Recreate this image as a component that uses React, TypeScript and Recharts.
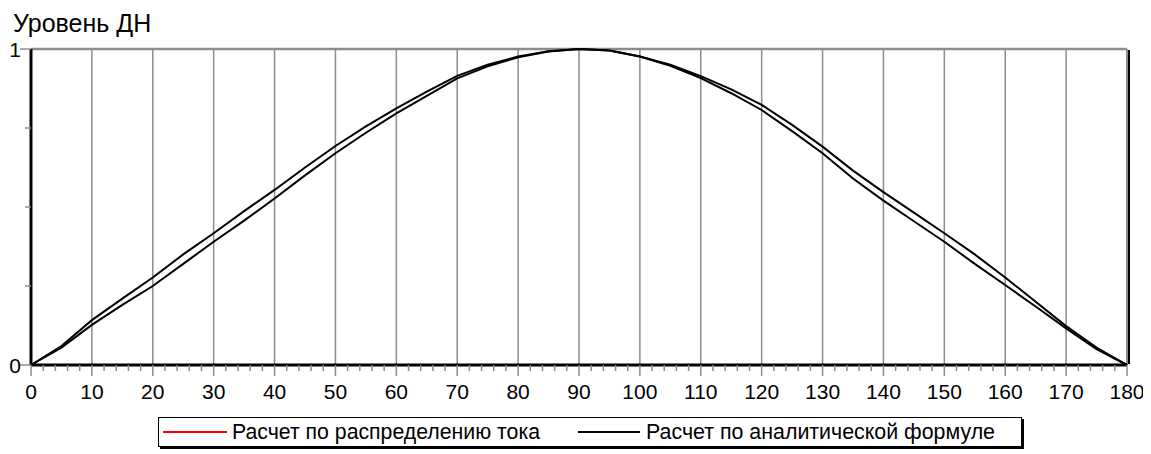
import React from 'react';
import { LineChart, XAxis, YAxis, Line, Legend, ReferenceLine } from 'recharts';

const angles = [0, 5, 10, 15, 20, 25, 30, 35, 40, 45, 50, 55, 60, 65, 70, 75, 80, 85, 90, 95, 100, 105, 110, 115, 120, 125, 130, 135, 140, 145, 150, 155, 160, 165, 170, 175, 180];
const currentDist = [0, 0.06, 0.142, 0.21, 0.277, 0.35, 0.417, 0.487, 0.554, 0.625, 0.693, 0.755, 0.812, 0.865, 0.915, 0.95, 0.976, 0.993, 1, 0.995, 0.976, 0.95, 0.914, 0.872, 0.823, 0.76, 0.691, 0.615, 0.547, 0.482, 0.417, 0.35, 0.277, 0.2, 0.123, 0.055, 0];
const analytic = [0, 0.055, 0.127, 0.19, 0.25, 0.32, 0.39, 0.457, 0.527, 0.6, 0.67, 0.735, 0.796, 0.852, 0.907, 0.945, 0.974, 0.992, 1, 0.995, 0.976, 0.947, 0.908, 0.86, 0.807, 0.74, 0.67, 0.59, 0.52, 0.455, 0.39, 0.32, 0.253, 0.185, 0.116, 0.05, 0];

const xTicks = [0, 2, 4, 6, 8, 10, 12, 14, 16, 18, 20, 22, 24, 26, 28, 30, 32, 34, 36, 38, 40, 42, 44, 46, 48, 50, 52, 54, 56, 58, 60, 62, 64, 66, 68, 70, 72, 74, 76, 78, 80, 82, 84, 86, 88, 90, 92, 94, 96, 98, 100, 102, 104, 106, 108, 110, 112, 114, 116, 118, 120, 122, 124, 126, 128, 130, 132, 134, 136, 138, 140, 142, 144, 146, 148, 150, 152, 154, 156, 158, 160, 162, 164, 166, 168, 170, 172, 174, 176, 178, 180];
const gridX = [10, 20, 30, 40, 50, 60, 70, 80, 90, 100, 110, 120, 130, 140, 150, 160, 170];
const yTicks = [0, 0.25, 0.5, 0.75, 1];
const yLabels = [0, 1];

const seriesNames = ['Расчет по распределению тока', 'Расчет по аналитической формуле'];
const legendColors = ['#ff0000', '#000000'];

const data = angles.map((a, i) => ({ angle: a, dist: currentDist[i], formula: analytic[i] }));

const FONT = '"Liberation Sans", Arial, sans-serif';
const GRID = '#8c8c8c';

const XTick = ({ x, y, payload }: any) => {
  const major = payload.value % 10 === 0;
  return (
    <g>
      <line x1={x} x2={x} y1={y} y2={y + (major ? 11 : 6)} stroke={GRID} strokeWidth={1.5} />
      {major && (
        <text x={x} y={y + 34} textAnchor="middle" fontSize={21} fontFamily={FONT} fill="#000">
          {payload.value}
        </text>
      )}
    </g>
  );
};

const YTick = ({ x, y, payload }: any) => {
  const labeled = yLabels.includes(payload.value);
  return (
    <g>
      <line x1={labeled ? x - 11 : x - 6} x2={x} y1={y} y2={y} stroke={GRID} strokeWidth={1.5} />
      {labeled && (
        <text x={x - 10} y={y + 8} textAnchor="end" fontSize={21} fontFamily={FONT} fill="#000">
          {payload.value}
        </text>
      )}
    </g>
  );
};

const LegendBox = () => (
  <div style={{ width: 864, height: 30, border: '1px solid #000', boxShadow: '2px 2px 0 #000', background: '#fff', boxSizing: 'border-box' }}>
    <svg width={862} height={28} style={{ display: 'block' }}>
      <line x1={4} x2={68} y1={14} y2={14} stroke={legendColors[0]} strokeWidth={2} />
      <text x={73} y={21} fontSize={22} fontFamily={FONT} textLength={308} lengthAdjust="spacingAndGlyphs">{seriesNames[0]}</text>
      <line x1={419} x2={481} y1={14} y2={14} stroke={legendColors[1]} strokeWidth={2} />
      <text x={487} y={21} fontSize={22} fontFamily={FONT} textLength={349} lengthAdjust="spacingAndGlyphs">{seriesNames[1]}</text>
    </svg>
  </div>
);

const App = () => (
  <div style={{ position: 'relative', width: 1143, height: 446, fontFamily: FONT }}>
    <LineChart width={1143} height={446} data={data} margin={{ top: 41, right: 24, left: 0, bottom: 49 }}>
      <XAxis
        dataKey="angle"
        type="number"
        domain={[0, 180]}
        ticks={xTicks}
        interval={0}
        tickSize={0}
        tickMargin={0}
        tickLine={false}
        tick={<XTick />}
        axisLine={{ stroke: '#000', strokeWidth: 3 }}
        height={40}
      />
      <YAxis
        type="number"
        domain={[0, 1]}
        ticks={yTicks}
        interval={0}
        tickSize={0}
        tickMargin={0}
        tickLine={false}
        tick={<YTick />}
        axisLine={{ stroke: '#000', strokeWidth: 3 }}
        width={23}
        label={{
          content: () => (
            <text x={5} y={24} fontSize={25} fontFamily={FONT} fill="#000">Уровень ДН</text>
          ),
        }}
      />
      {gridX.map(g => (
        <ReferenceLine key={g} x={g} stroke={GRID} strokeWidth={1.5} />
      ))}
      <ReferenceLine y={1} stroke={GRID} strokeWidth={2.5} />
      <ReferenceLine
        x={180}
        shape={(p: any) => (
          <g>
            <line x1={p.x1} x2={p.x2} y1={p.y1} y2={p.y2} stroke={GRID} strokeWidth={2} />
            <line x1={p.x1 + 2} x2={p.x2 + 2} y1={p.y1 - 1} y2={p.y2 + 1} stroke="#000" strokeWidth={2} />
          </g>
        )}
      />
      <Line type="linear" dataKey="dist" name={seriesNames[0]} stroke="#000" strokeWidth={2} dot={false} isAnimationActive={false} />
      <Line type="linear" dataKey="formula" name={seriesNames[1]} stroke="#000" strokeWidth={2} dot={false} isAnimationActive={false} />
      <Legend
        layout="horizontal"
        verticalAlign="middle"
        align="center"
        content={() => <LegendBox />}
        wrapperStyle={{ position: 'absolute', top: 409, left: 150, width: 867, height: 32 }}
      />
    </LineChart>
  </div>
);

export default App;
